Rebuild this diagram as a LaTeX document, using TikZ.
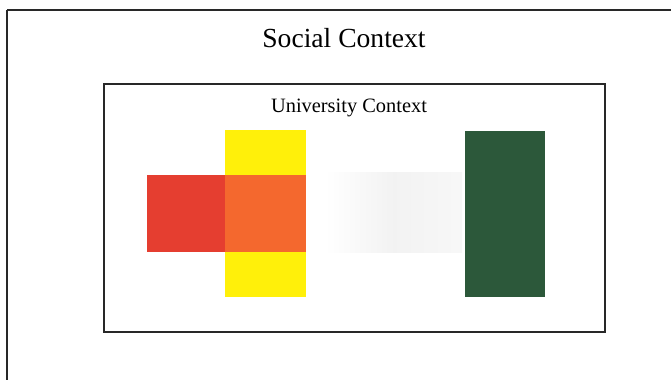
\documentclass[tikz,border=0pt]{standalone}
\usepackage{fontspec}
\setmainfont{Liberation Serif}
\usepackage{tikz}

\definecolor{ctxred}{RGB}{229,62,48}
\definecolor{ctxorange}{RGB}{244,104,46}
\definecolor{ctxyellow}{RGB}{255,240,10}
\definecolor{ctxgreen}{RGB}{44,88,58}

\begin{document}
\begin{tikzpicture}[x=0.75pt,y=0.75pt,yscale=-1,xscale=1]
\useasboundingbox (0,0) rectangle (671,379);

%Shape: Rectangle [id:social]
\draw [color={rgb, 255:red, 40; green, 40; blue, 40 }, line width=1.5]  (7,10) -- (690,10) (7,10) -- (7,395) ;
%Shape: Rectangle [id:university]
\draw [color={rgb, 255:red, 40; green, 40; blue, 40 }, line width=1.2]  (104,84) rectangle (605,332) ;

%Shape: Rectangle [id:yellow]
\fill [ctxyellow]  (225,130) rectangle (306,297) ;
%Shape: Rectangle [id:red]
\fill [ctxred]  (147,175) rectangle (225,252) ;
%Shape: Rectangle [id:orange]
\fill [ctxorange]  (225,175) rectangle (306,252) ;
%Shape: Rectangle [id:faded]
\shade [left color=white, right color=black!3, middle color=black!5]  (325,172) rectangle (462,252) ;
%Shape: Rectangle [id:green]
\fill [ctxgreen]  (465,131) rectangle (545,297) ;

% Text Node
\draw (344,38) node [inner sep=0.75pt]  [font=\fontsize{20.7}{24}\selectfont]  (social) {Social Context};
% Text Node
\draw (349,108) node [inner sep=0.75pt]  [font=\fontsize{15.3}{18}\selectfont]  (university) {University Context};

\end{tikzpicture}
\end{document}
